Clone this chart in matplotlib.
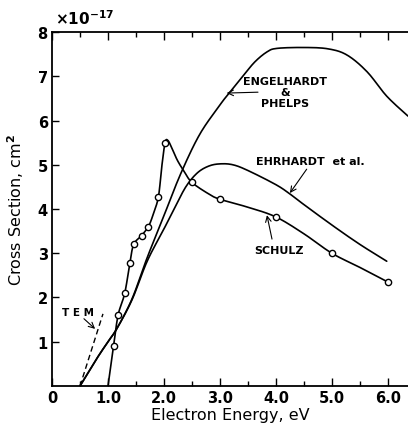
import numpy as np
import matplotlib.pyplot as plt
from matplotlib.ticker import MultipleLocator, FixedLocator

plt.rcParams['font.family'] = ['DejaVu Sans']
plt.rcParams['font.weight'] = 'bold'

# Engelhardt & Phelps (cross section, units of 1e-17 cm^2)
ep_energy = [0.5, 0.8, 1.0, 1.16, 1.43, 1.7, 2.0, 2.3, 2.64, 3.0, 3.12, 3.41, 3.62, 3.84, 4.02, 4.5, 4.93, 5.27, 5.63, 5.98, 6.36]
ep_sigma = [0.0, 0.62, 1.0, 1.3, 1.97, 2.9, 3.85, 4.8, 5.69, 6.35, 6.55, 7.0, 7.32, 7.55, 7.63, 7.65, 7.62, 7.48, 7.1, 6.55, 6.1]

# Ehrhardt et al.
eh_energy = [0.5, 0.8, 1.0, 1.16, 1.43, 1.7, 2.0, 2.2, 2.4, 2.6, 2.8, 3.0, 3.23, 3.5, 4.0, 4.25, 4.5, 5.02, 5.5, 5.98]
eh_sigma = [0.0, 0.62, 1.0, 1.3, 1.95, 2.82, 3.55, 4.05, 4.52, 4.82, 4.97, 5.02, 5.0, 4.87, 4.55, 4.34, 4.1, 3.62, 3.2, 2.82]

# Schulz: measured points and the drawn curve through them
schulz_energy = [1.1, 1.18, 1.3, 1.39, 1.46, 1.6, 1.72, 1.9, 2.02, 2.5, 3.0, 4.0, 5.0, 6.0]
schulz_sigma = [0.9, 1.6, 2.1, 2.78, 3.2, 3.4, 3.6, 4.27, 5.5, 4.6, 4.23, 3.82, 3.0, 2.35]
schulz_curve_energy = [1.0, 1.1, 1.18, 1.3, 1.39, 1.46, 1.6, 1.72, 1.8, 1.9, 1.96, 2.02, 2.07, 2.14, 2.24, 2.36, 2.5, 2.8, 3.0, 3.5, 4.0, 4.5, 5.0, 5.5, 6.0]
schulz_curve_sigma = [0.0, 0.9, 1.6, 2.1, 2.78, 3.2, 3.4, 3.6, 3.85, 4.27, 4.95, 5.5, 5.55, 5.38, 5.1, 4.85, 4.6, 4.34, 4.22, 4.04, 3.82, 3.44, 3.0, 2.68, 2.35]

# TEM onset (dashed)
tem_energy = [0.5, 0.91]
tem_sigma = [0.0, 1.63]


def smooth(x, y, n=12):
    # Catmull-Rom pass so the hand-drawn curves come out round
    x = np.asarray(x, float)
    y = np.asarray(y, float)
    p = np.column_stack([x, y])
    p = np.vstack([p[0], p, p[-1]])
    out = []
    t = np.linspace(0, 1, n, endpoint=False)[:, None]
    for i in range(1, len(p) - 2):
        p0, p1, p2, p3 = p[i - 1], p[i], p[i + 1], p[i + 2]
        seg = 0.5 * ((2 * p1) + (-p0 + p2) * t + (2 * p0 - 5 * p1 + 4 * p2 - p3) * t ** 2
                     + (-p0 + 3 * p1 - 3 * p2 + p3) * t ** 3)
        out.append(seg)
    out.append(p[-2][None, :])
    out = np.vstack(out)
    return out[:, 0], out[:, 1]


fig = plt.figure(figsize=(4.08, 4.27), dpi=100)
ax = fig.add_axes([0.1275, 0.0937, 0.8725, 0.829])

lw = 1.2
ax.plot(*smooth(ep_energy, ep_sigma), color='black', lw=lw, solid_capstyle='round')
ax.plot(*smooth(eh_energy, eh_sigma), color='black', lw=lw, solid_capstyle='round')
ax.plot(*smooth(schulz_curve_energy, schulz_curve_sigma), color='black', lw=lw)
ax.plot(schulz_energy, schulz_sigma, 'o', ms=4.5, mfc='white', mec='black', mew=1.0)
ax.plot(tem_energy, tem_sigma, color='black', lw=1.0, ls=(0, (4, 2.5)))

ax.set_xlim(0, 6.36)
ax.set_ylim(0, 8)

ax.xaxis.set_major_locator(FixedLocator([0, 1, 2, 3, 4, 5, 6]))
ax.xaxis.set_minor_locator(MultipleLocator(0.5))
ax.set_xticklabels(['0', '1.0', '2.0', '3.0', '4.0', '5.0', '6.0'])
ax.yaxis.set_major_locator(FixedLocator([1, 2, 3, 4, 5, 6, 7, 8]))
ax.set_yticklabels([str(v) for v in range(1, 9)])

ax.tick_params(which='both', direction='in', top=True, right=False, width=1.0, labelsize=10.5, pad=3)
ax.tick_params(which='major', length=6)
ax.tick_params(which='minor', length=3.5)
ax.tick_params(axis='y', which='major', length=5)

for side in ['left', 'top', 'bottom']:
    ax.spines[side].set_linewidth(1.3)
ax.spines['right'].set_visible(False)

ax.set_xlabel('Electron Energy, eV', fontsize=11.5, labelpad=1)
ax.set_ylabel('Cross Section, cm$^\\mathbf{2}$', fontsize=11.5, labelpad=8)
fig.text(0.135, 0.935, r'$\mathbf{\times10^{-17}}$', fontsize=11, ha='left', va='bottom')

# curve labels with pointer arrows
lab = dict(fontsize=8, fontweight='bold', ha='center', va='center')
arrow = dict(arrowstyle='->', lw=0.8, color='black', shrinkA=0, shrinkB=0)
ax.text(4.17, 6.65, 'ENGELHARDT\n&\nPHELPS', linespacing=1.15, **lab)
ax.annotate('', xy=(3.12, 6.62), xytext=(3.68, 6.64), arrowprops=arrow)
ax.text(4.62, 5.08, 'EHRHARDT  et al.', **lab)
ax.annotate('', xy=(4.25, 4.36), xytext=(4.55, 4.9), arrowprops=arrow)
ax.text(4.05, 3.07, 'SCHULZ', **lab)
ax.annotate('', xy=(3.84, 3.86), xytext=(3.93, 3.32), arrowprops=arrow)
ax.text(0.47, 1.67, 'T E M', fontsize=7.5, fontweight='bold', ha='center', va='center')
ax.annotate('', xy=(0.77, 1.29), xytext=(0.57, 1.52), arrowprops=arrow)

fig.savefig('out.png', dpi=100)
